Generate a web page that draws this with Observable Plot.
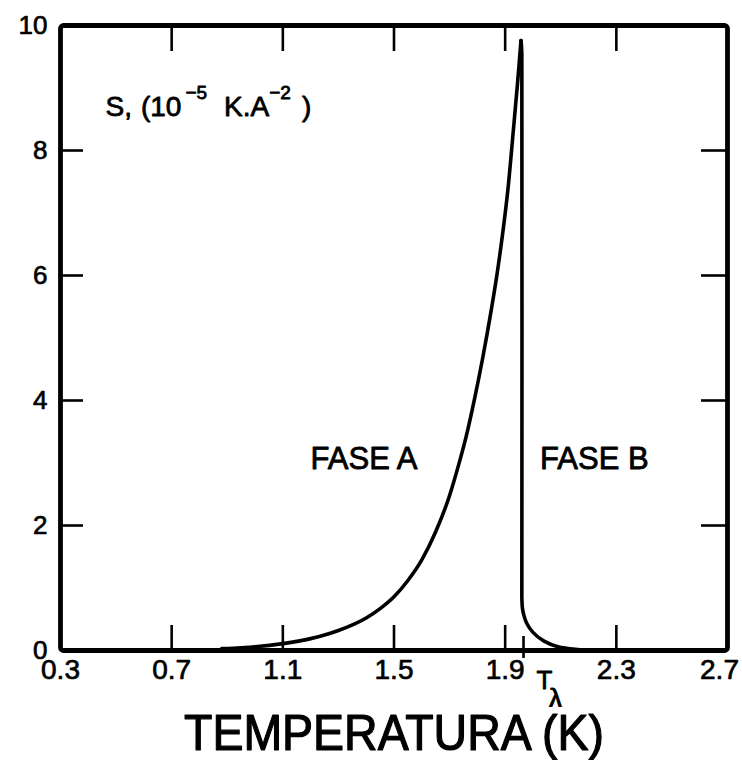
<!DOCTYPE html>
<html>
<head>
<meta charset="utf-8">
<script src="https://cdn.jsdelivr.net/npm/d3@7"></script>
<script src="https://cdn.jsdelivr.net/npm/@observablehq/plot@0.6"></script>
<style>
  html, body { margin: 0; padding: 0; background: #fff; }
  #chart { width: 742px; height: 760px; }
</style>
</head>
<body>
<div id="chart"></div>
<script>
// Phase A: temperature (K) and S (10^-5 K·A^-2)
const tempA = [0.88, 0.95, 1.0, 1.1, 1.2, 1.3, 1.4, 1.45, 1.5, 1.55, 1.6, 1.65, 1.7, 1.73, 1.76, 1.79, 1.82, 1.85, 1.87, 1.89, 1.91, 1.93, 1.945, 1.957];
const sA    = [0.03, 0.045, 0.06, 0.11, 0.19, 0.32, 0.52, 0.67, 0.86, 1.12, 1.45, 1.90, 2.48, 2.93, 3.43, 4.03, 4.70, 5.45, 6.00, 6.64, 7.38, 8.35, 9.10, 9.76];
// Phase B: sharp drop at T-lambda and decay above it
const tempB = [1.957, 1.960, 1.960, 1.962, 1.967, 1.977, 2.000, 2.040, 2.090, 2.160, 2.220];
const sB    = [9.76, 9.55, 0.85, 0.68, 0.57, 0.44, 0.29, 0.15, 0.06, 0.015, 0.0];

const xTickLabels = [0.3, 0.7, 1.1, 1.5, 1.9, 2.3, 2.7];
const yTickLabels = [0, 2, 4, 6, 8, 10];
const xInnerTicks = [0.7, 1.1, 1.5, 1.9, 2.3];
const yInnerTicks = [2, 4, 6, 8];
const tLambda = 1.966;

const yTitle = "S, (10−5 K.A−2)";
const xTitle = "TEMPERATURA (K)";
const phaseLabels = ["FASE A", "FASE B"];
const phaseLabelT = [1.392, 2.221];
const phaseLabelS = [2.91, 2.90];

const dataA = tempA.map((t, i) => ({t, s: sA[i]}));
const dataB = tempB.map((t, i) => ({t, s: sB[i]}));
const phaseData = phaseLabels.map((label, i) => ({label, t: phaseLabelT[i], s: phaseLabelS[i]}));

const font = "'Liberation Sans', Arial, Helvetica, sans-serif";
const ink = {fill: "black", stroke: "black", strokeWidth: 0.8};

const chart = Plot.plot({
  width: 742,
  height: 760,
  marginLeft: 60,
  marginRight: 15,
  marginTop: 25,
  marginBottom: 110,
  style: {fontFamily: font, color: "black", background: "white", overflow: "visible"},
  x: {domain: [0.3, 2.7]},
  y: {domain: [0, 10]},
  marks: [
    // inward ticks
    Plot.axisX(xInnerTicks, {anchor: "bottom", tickSize: -25, fill: "none", strokeWidth: 2.6, label: null}),
    Plot.axisX(xInnerTicks, {anchor: "top", tickSize: -25, fill: "none", strokeWidth: 2.6, label: null}),
    Plot.axisY(yInnerTicks, {anchor: "left", tickSize: -23, fill: "none", strokeWidth: 2.6, label: null}),
    Plot.axisY(yInnerTicks, {anchor: "right", tickSize: -27, fill: "none", strokeWidth: 2.6, label: null}),
    // T-lambda tick crossing the axis
    Plot.axisX([tLambda], {anchor: "bottom", tickSize: 8, fill: "none", strokeWidth: 2.6, label: null}),
    Plot.axisX([tLambda], {anchor: "bottom", tickSize: -14, fill: "none", strokeWidth: 2.6, label: null}),
    // tick labels
    Plot.axisX(xTickLabels, {anchor: "bottom", tickSize: 0, tickPadding: 9, fontSize: 28, label: null,
      textStroke: "black", textStrokeWidth: 0.7, tickFormat: d => d.toFixed(1)}),
    Plot.axisY(yTickLabels, {anchor: "left", tickSize: 0, tickPadding: 13, fontSize: 26, label: null,
      textStroke: "black", textStrokeWidth: 0.7, tickFormat: d => String(d)}),
    // curves
    Plot.line(dataA, {x: "t", y: "s", curve: "monotone-x", stroke: "black", strokeWidth: 3.6, strokeLinejoin: "round", strokeLinecap: "round"}),
    Plot.line(dataB, {x: "t", y: "s", curve: "catmull-rom", stroke: "black", strokeWidth: 3.6, strokeLinejoin: "round", strokeLinecap: "round"}),
    // phase labels
    Plot.text(phaseData, {x: "t", y: "s", text: "label", fontSize: 31, textAnchor: "middle", lineAnchor: "bottom", ...ink}),
    // y title inside frame
    Plot.text([yTitle], {frameAnchor: "top-left", dx: 45, dy: 90, text: d => d, fontSize: 28, textAnchor: "start", lineAnchor: "bottom", ...ink}),
    // T lambda label
    Plot.text([tLambda], {x: d => d, frameAnchor: "bottom", dx: 21, dy: 38, text: () => "T", fontSize: 26, textAnchor: "middle", lineAnchor: "bottom", ...ink}),
    Plot.text([tLambda], {x: d => d, frameAnchor: "bottom", dx: 32, dy: 56, text: () => "λ", fontSize: 25, fontWeight: "bold", textAnchor: "middle", lineAnchor: "bottom", fill: "black"}),
    // x title
    Plot.text([xTitle], {frameAnchor: "bottom", dy: 99, text: d => d, fontSize: 50, textAnchor: "middle", lineAnchor: "bottom", fill: "black", stroke: "black", strokeWidth: 1.2}),
    Plot.frame({stroke: "black", strokeWidth: 4.8, rx: 3})
  ]
});

document.getElementById("chart").appendChild(chart);

// post-processing: condensed title, superscripts, last tick label nudged inward
const svg = d3.select(chart);
svg.selectAll("text").filter(function () { return this.textContent === xTitle; })
  .attr("textLength", 420).attr("lengthAdjust", "spacingAndGlyphs");

svg.selectAll("text").filter(function () { return this.textContent === "2.7"; })
  .attr("dx", -8);

svg.selectAll("text").filter(function () { return this.textContent === yTitle; })
  .each(function () {
    const t = d3.select(this);
    t.text(null);
    const parts = [
      {s: "S,", size: 28, dy: 0, dx: 0},
      {s: "(10", size: 28, dy: 0, dx: 9},
      {s: "−5", size: 19, dy: -17, dx: 4},
      {s: "K.A", size: 28, dy: 17, dx: 17},
      {s: "−2", size: 19, dy: -17, dx: 0},
      {s: ")", size: 28, dy: 17, dx: 11}
    ];
    parts.forEach(p => {
      t.append("tspan").attr("font-size", p.size).attr("dy", p.dy).attr("dx", p.dx).text(p.s);
    });
  });
</script>
</body>
</html>
